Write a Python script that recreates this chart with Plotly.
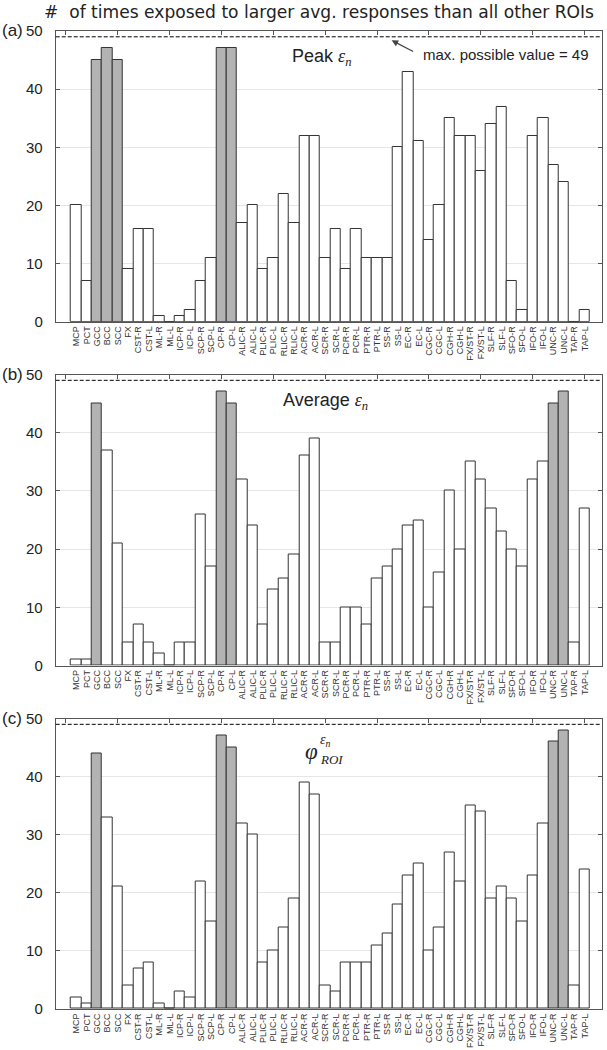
import plotly.graph_objects as go

categories = ["MCP", "PCT", "GCC", "BCC", "SCC", "FX", "CST-R", "CST-L", "ML-R", "ML-L",
              "ICP-R", "ICP-L", "SCP-R", "SCP-L", "CP-R", "CP-L", "ALIC-R", "ALIC-L",
              "PLIC-R", "PLIC-L", "RLIC-R", "RLIC-L", "ACR-R", "ACR-L", "SCR-R", "SCR-L",
              "PCR-R", "PCR-L", "PTR-R", "PTR-L", "SS-R", "SS-L", "EC-R", "EC-L",
              "CGC-R", "CGC-L", "CGH-R", "CGH-L", "FX/ST-R", "FX/ST-L", "SLF-R", "SLF-L",
              "SFO-R", "SFO-L", "IFO-R", "IFO-L", "UNC-R", "UNC-L", "TAP-R", "TAP-L"]

peak_values = [20, 7, 45, 47, 45, 9, 16, 16, 1, 0,
               1, 2, 7, 11, 47, 47, 17, 20,
               9, 11, 22, 17, 32, 32, 11, 16,
               9, 16, 11, 11, 11, 30, 43, 31,
               14, 20, 35, 32, 32, 26, 34, 37,
               7, 2, 32, 35, 27, 24, 0, 2]

average_values = [1, 1, 45, 37, 21, 4, 7, 4, 2, 0,
                  4, 4, 26, 17, 47, 45, 32, 24,
                  7, 13, 15, 19, 36, 39, 4, 4,
                  10, 10, 7, 15, 17, 20, 24, 25,
                  10, 16, 30, 20, 35, 32, 27, 23,
                  20, 17, 32, 35, 45, 47, 4, 27]

phi_values = [2, 1, 44, 33, 21, 4, 7, 8, 1, 0,
              3, 2, 22, 15, 47, 45, 32, 30,
              8, 10, 14, 19, 39, 37, 4, 3,
              8, 8, 8, 11, 13, 18, 23, 25,
              10, 14, 27, 22, 35, 34, 19, 21,
              19, 15, 23, 32, 46, 48, 4, 24]

peak_highlight = ["GCC", "BCC", "SCC", "CP-R", "CP-L"]
average_highlight = ["GCC", "CP-R", "CP-L", "UNC-R", "UNC-L"]
phi_highlight = ["GCC", "CP-R", "CP-L", "UNC-R", "UNC-L"]

max_possible = 49
y_ticks = [0, 10, 20, 30, 40, 50]
top_ticks = [0, 5, 10, 15, 20, 25, 30, 35, 40, 45, 50]

GRAY = "#b3b3b3"
EDGE = "#333333"
AXC = "#555555"
SANS = "Liberation Sans, Arial, sans-serif"
SERIF = "Liberation Serif, DejaVu Serif, serif"

x_domain = [0.0918, 0.9913]
y_domains = [[0.69362, 0.97048], [0.36619, 0.64333], [0.03905, 0.31571]]
cat_range = [-1.98, 50.65]
num_range = [-0.98, 51.65]

panels = [(peak_values, peak_highlight), (average_values, average_highlight), (phi_values, phi_highlight)]

fig = go.Figure()
layout = dict(
    width=607, height=1050,
    margin=dict(l=0, r=0, t=0, b=0),
    paper_bgcolor="white", plot_bgcolor="white",
    showlegend=False, bargap=0,
    font=dict(family=SANS, color="#222222"),
)

for i, (vals, hl) in enumerate(panels):
    n = i + 1
    xs = "" if n == 1 else str(n)
    colors = [GRAY if c in hl else "white" for c in categories]
    fig.add_trace(go.Bar(
        x=categories, y=vals, width=1,
        marker=dict(color=colors, line=dict(color=EDGE, width=1)),
        xaxis="x" + xs, yaxis="y" + xs, hoverinfo="skip",
    ))
    layout["xaxis" + xs] = dict(
        domain=x_domain, anchor="y" + xs, type="category",
        categoryorder="array", categoryarray=categories,
        tickmode="array", tickvals=categories, ticktext=categories,
        range=cat_range, tickangle=-90, ticks="",
        tickfont=dict(size=9, color="#333333", family=SANS),
        showline=True, mirror=True, linecolor=AXC, linewidth=1,
        showgrid=False, automargin=False,
    )
    layout["yaxis" + xs] = dict(
        domain=y_domains[i], anchor="x" + xs, range=[0, 50],
        tickvals=y_ticks, ticks="inside", ticklen=4, tickcolor=AXC,
        showline=True, mirror="ticks", linecolor=AXC, linewidth=1,
        showgrid=True, gridcolor="#e6e6e6", gridwidth=1, zeroline=False,
        tickfont=dict(size=15, color="#222222", family=SANS),
        ticklabelstandoff=9, automargin=False,
    )
    ov = str(n + 3)
    layout["xaxis" + ov] = dict(
        overlaying="x" + xs, anchor="y" + xs, side="top",
        range=num_range, tickvals=top_ticks, ticks="inside", ticklen=4,
        tickcolor=AXC, showticklabels=False, showgrid=False,
        showline=False, zeroline=False, automargin=False,
    )
    fig.add_shape(type="line", xref="x" + xs + " domain", yref="y" + xs,
                  x0=0, x1=1, y0=max_possible, y1=max_possible,
                  line=dict(color="black", width=1, dash="4px,2px"))
    fig.add_annotation(xref="paper", yref="y" + xs, x=0, y=50, xanchor="left",
                       yanchor="middle", text="(" + "abc"[i] + ")", showarrow=False,
                       font=dict(size=17, family=SANS, color="#222222"))

for n in (4, 5, 6):
    fig.add_trace(go.Scatter(x=[None], y=[None], xaxis="x" + str(n),
                             yaxis="y" + ("" if n == 4 else str(n - 3)),
                             hoverinfo="skip", showlegend=False))

fig.update_layout(**layout)

# title
fig.add_annotation(xref="paper", yref="paper", x=0.070, y=1.0, xanchor="left", yanchor="top",
                   text="#\u00a0 of times exposed to larger avg. responses than all other ROIs",
                   showarrow=False, font=dict(size=17.1, family="DejaVu Sans, sans-serif", color="#222222"))

# panel (a) labels
fig.add_annotation(xref="x", yref="y", x=23.6, y=45.4, xanchor="center", yanchor="middle",
                   text="Peak <i><span style='font-family:Liberation Serif'>ε<sub>n</sub></span></i>",
                   showarrow=False, font=dict(size=18, family=SANS, color="#222222"))
fig.add_annotation(xref="x", yref="y", x=33.2, y=46.0, xanchor="left", yanchor="middle",
                   text="max. possible value = 49", showarrow=False,
                   font=dict(size=15, family=SANS, color="#222222"))
fig.add_annotation(xref="x", yref="y", x=30.4, y=48.4, text="", showarrow=True,
                   ax=23, ay=12, arrowhead=2, arrowsize=1, arrowwidth=1.3,
                   arrowcolor="#444444")

# panel (b) label
fig.add_annotation(xref="x2", yref="y2", x=24.0, y=45.4, xanchor="center", yanchor="middle",
                   text="Average <i><span style='font-family:Liberation Serif'>ε<sub>n</sub></span></i>",
                   showarrow=False, font=dict(size=18, family=SANS, color="#222222"))

# panel (c) label
fig.add_annotation(xref="x3", yref="y3", x=21.9, y=44.3, xanchor="left", yanchor="middle",
                   text="<i>φ</i>", showarrow=False,
                   font=dict(size=23, family=SERIF, color="#222222"))
fig.add_annotation(xref="x3", yref="y3", x=23.3, y=46.3, xanchor="left", yanchor="middle",
                   text="<i>ε<sub>n</sub></i>", showarrow=False,
                   font=dict(size=14, family=SERIF, color="#222222"))
fig.add_annotation(xref="x3", yref="y3", x=23.3, y=43.0, xanchor="left", yanchor="middle",
                   text="<i>ROI</i>", showarrow=False,
                   font=dict(size=13, family=SERIF, color="#222222"))

fig.write_html("out.html", config={"displayModeBar": False},
               post_script="document.body.style.margin='0px';")
